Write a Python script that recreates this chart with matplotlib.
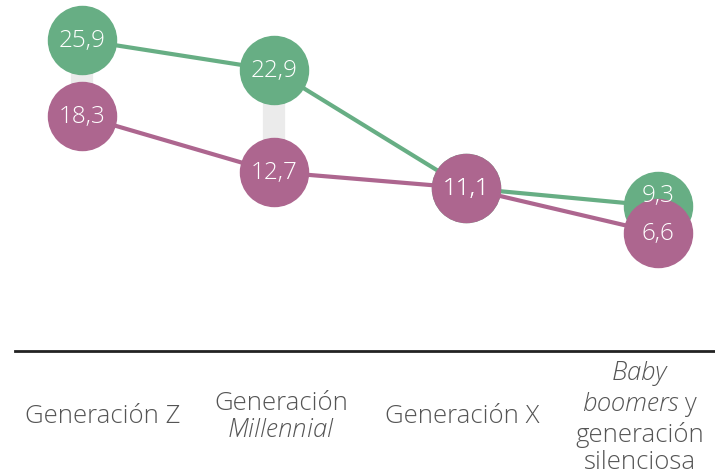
import matplotlib
matplotlib.use("Agg")
import matplotlib.pyplot as plt

categories = ["Generación Z", "Generación\n$\\mathit{Millennial}$", "Generación X",
              "$\\mathit{Baby}$\n$\\mathit{boomers}$ y\ngeneración\nsilenciosa"]
green_vals = [25.9, 22.9, 11.1, 9.3]
purple_vals = [18.3, 12.7, 11.1, 6.6]

GREEN = "#67AE84"
PURPLE = "#AD668F"
GRAY = "#EBEBEB"
FONT = "Open Sans"

plt.rcParams['font.family'] = [FONT, 'DejaVu Sans']
plt.rcParams['mathtext.fontset'] = 'custom'
plt.rcParams['mathtext.rm'] = FONT + ':light'
plt.rcParams['mathtext.it'] = FONT + ':italic:light'

W, H = 715, 477
fig = plt.figure(figsize=(W / 100, H / 100), dpi=100)
ax = fig.add_axes([15 / W, 125 / H, 700 / W, 352 / H])
ax.set_xlim(-0.349, 3.297)
ax.set_ylim(-5.2, 30)
ax.axis('off')

x = list(range(len(categories)))
for xi, g, p in zip(x, green_vals, purple_vals):
    ax.plot([xi, xi], [g, p], color=GRAY, lw=16, solid_capstyle='butt', zorder=1)

ax.plot(x, green_vals, color=GREEN, lw=3, zorder=2, marker='o', ms=49,
        markerfacecolor=GREEN, markeredgecolor=GREEN)
ax.plot(x, purple_vals, color=PURPLE, lw=3, zorder=4, marker='o', ms=49,
        markerfacecolor=PURPLE, markeredgecolor=PURPLE)

def fmt(v):
    return f"{v:.1f}".replace('.', ',')

for xi, g, p in zip(x, green_vals, purple_vals):
    gap = g - p
    dy = 11 if 0 < gap < 5 else 0
    ax.annotate(fmt(g), xy=(xi, g), xytext=(0, dy), textcoords='offset pixels',
                color='white', ha='center', va='center', fontsize=17.5,
                fontweight='light', zorder=6)
    ax.annotate(fmt(p), xy=(xi, p), color='white', ha='center', va='center',
                fontsize=17.5, fontweight='light', zorder=6)

# baseline
ax.axhline(-5.2, color='#222222', lw=2, clip_on=False, zorder=6)

label_dx = [21, 7, -4, -18]
for xi, lab, dx in zip(x, categories, label_dx):
    ax.annotate(lab, xy=(xi, 0), xycoords=('data', 'figure pixels'),
                xytext=(dx, H - 417), textcoords='offset pixels',
                ha='center', va='center', fontsize=18.5, color='#555555',
                fontweight='light', linespacing=1.12, multialignment='center')

fig.savefig("out.png", dpi=100)
